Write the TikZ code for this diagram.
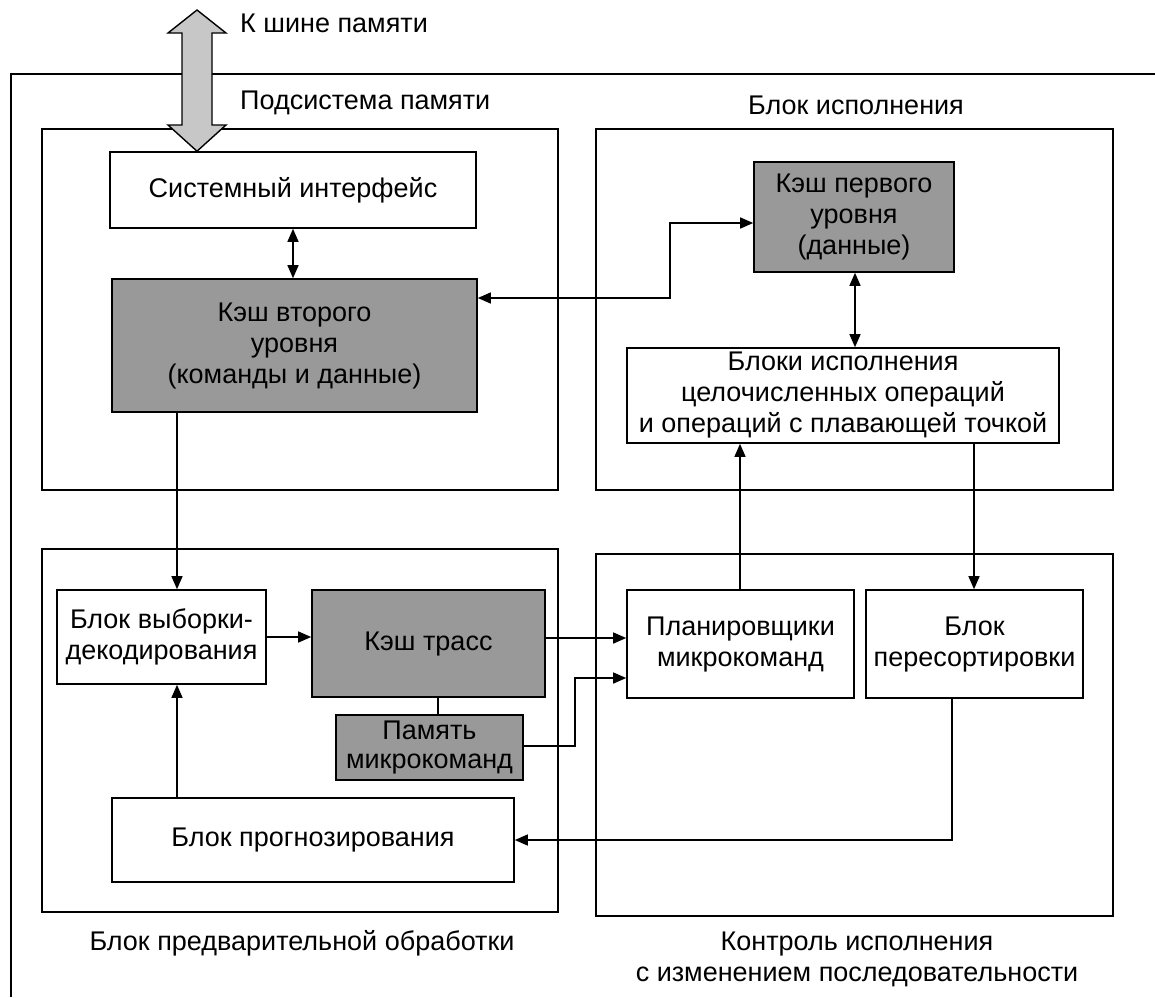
\documentclass[tikz,border=0pt]{standalone}
\usepackage{fontspec}
\setmainfont{Liberation Sans}
\usetikzlibrary{arrows.meta}
\begin{document}
\begin{tikzpicture}[x=1pt,y=-1pt,
  font=\fontsize{27}{31}\selectfont,
  frame/.style={draw,line width=1.5pt},
  box/.style={draw,line width=1.6pt,inner sep=0pt,align=center,rectangle},
  shaded/.style={box,fill=black!40},
  conn/.style={line width=1.4pt},
  tip/.style={-{Triangle[length=13pt,width=11pt]}},
  bitip/.style={{Triangle[length=13pt,width=11pt]}-{Triangle[length=13pt,width=11pt]}},
  lbl/.style={inner sep=0pt}
]
\useasboundingbox (0,0) rectangle (1155,997);
% outer frame (open on right and bottom)
\draw[frame] (1155,74) -- (11,74) -- (11,997);
% group boxes
\draw[frame] (42,129) rectangle (558,490);
\draw[frame] (596,129) rectangle (1113,490);
\draw[frame] (42,549) rectangle (558,912);
\draw[frame] (596,554) rectangle (1113,916);
% group labels
\node[lbl,anchor=west] (lbus) at (240,23) {К шине памяти};
\node[lbl,anchor=west] (lmem) at (240,103) {Подсистема памяти};
\node[lbl] (lexec) at (856,105) {Блок исполнения};
\node[lbl] (lfront) at (302,943) {Блок предварительной обработки};
\node[lbl,align=center] (looo) at (857,959) {Контроль исполнения\\с изменением последовательности};
% blocks
\node[box,minimum width=366pt,minimum height=76pt] (sysif) at (293,190) {Системный интерфейс};
\node[shaded,minimum width=365pt,minimum height=133pt] (l2) at (294.5,345.5) {Кэш второго\\уровня\\(команды и данные)};
\node[shaded,minimum width=200pt,minimum height=110pt] (l1) at (854,217) {Кэш первого\\уровня\\(данные)};
\node[box,minimum width=432pt,minimum height=95pt] (exec) at (843,395.5) {Блоки исполнения\\целочисленных операций\\и операций с плавающей точкой};
\node[box,minimum width=209pt,minimum height=94pt] (fetch) at (161.5,637) {Блок выборки-\\декодирования};
\node[shaded,minimum width=233pt,minimum height=107pt] (trace) at (428.5,643.5) {Кэш трасс};
\node[shaded,line width=2.2pt,minimum width=187pt,minimum height=65pt,font=\fontsize{27}{29}\selectfont] (ucode) at (429.5,747.5) {Память\\микрокоманд};
\node[box,minimum width=227pt,minimum height=108pt] (sched) at (740.5,644) {Планировщики\\микрокоманд};
\node[box,minimum width=217pt,minimum height=108pt] (reorder) at (974.5,644) {Блок\\пересортировки};
\node[box,minimum width=402pt,minimum height=84pt] (predict) at (313,840) {Блок прогнозирования};
% big double arrow to memory bus
\coordinate (bt) at (sysif.north -| 197,0);
\draw[line width=1.4pt,fill=black!22] (197,10) -- (226,33) -- (212,33) -- (212,125) -- (226,125) -- (bt) -- (168,125) -- (182,125) -- (182,33) -- (168,33) -- cycle;
% connectors
\draw[conn,bitip] (sysif.south) -- (sysif.south |- l2.north);
\draw[conn,bitip] (l1.west |- 0,223) -| (670,298) -- (l2.east |- 0,298);
\draw[conn,bitip] (l1.south -| 855,0) -- (exec.north -| 855,0);
\draw[conn,tip] (l2.south -| 177,0) -- (fetch.north -| 177,0);
\draw[conn,tip] (fetch.east) -- (trace.west |- fetch.east);
\draw[conn,tip] (trace.east |- 0,638) -- (sched.west |- 0,638);
\draw[conn] (trace.south -| 438,0) -- (ucode.north -| 438,0);
\draw[conn,tip] (ucode.east |- 0,746) -| (575,678) -- (sched.west |- 0,678);
\draw[conn,tip] (sched.north -| 740,0) -- (exec.south -| 740,0);
\draw[conn,tip] (exec.south -| 974,0) -- (reorder.north -| 974,0);
\draw[conn,tip] (reorder.south -| 952,0) |- (predict.east |- 0,840);
\draw[conn,tip] (predict.north -| 177,0) -- (fetch.south -| 177,0);
\end{tikzpicture}
\end{document}
